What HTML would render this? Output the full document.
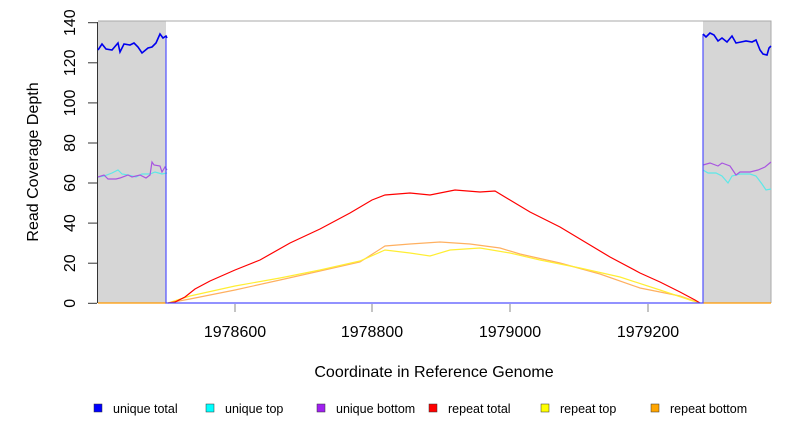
<!DOCTYPE html>
<html><head><meta charset="utf-8"><style>
body{margin:0;background:#fff;}
svg{display:block;font-family:"Liberation Sans",sans-serif;}
</style></head><body>
<svg width="792" height="432" viewBox="0 0 792 432" xmlns="http://www.w3.org/2000/svg">
<rect x="98" y="21" width="68" height="282" fill="#d6d6d6"/>
<rect x="703" y="21" width="68" height="282" fill="#d6d6d6"/>
<polyline points="98,21 771,21 771,303" fill="none" stroke="#aaa" stroke-width="1"/>
<line x1="97.5" y1="22" x2="97.5" y2="303" stroke="#333"/>
<g stroke="#333">
<line x1="88" y1="303.3" x2="97" y2="303.3"/><line x1="88" y1="263.2" x2="97" y2="263.2"/>
<line x1="88" y1="223.1" x2="97" y2="223.1"/><line x1="88" y1="183" x2="97" y2="183"/>
<line x1="88" y1="143" x2="97" y2="143"/><line x1="88" y1="102.9" x2="97" y2="102.9"/>
<line x1="88" y1="62.8" x2="97" y2="62.8"/><line x1="88" y1="22.7" x2="97" y2="22.7"/>
</g>
<g stroke="#888"><line x1="235" y1="304" x2="235" y2="312"/><line x1="372" y1="304" x2="372" y2="312"/><line x1="510" y1="304" x2="510" y2="312"/><line x1="648" y1="304" x2="648" y2="312"/></g>
<g font-size="16" fill="#000" text-anchor="middle">
<text transform="translate(75,303.3) rotate(-90)">0</text>
<text transform="translate(75,263.2) rotate(-90)">20</text>
<text transform="translate(75,223.1) rotate(-90)">40</text>
<text transform="translate(75,183) rotate(-90)">60</text>
<text transform="translate(75,143) rotate(-90)">80</text>
<text transform="translate(75,102.9) rotate(-90)">100</text>
<text transform="translate(75,62.8) rotate(-90)">120</text>
<text transform="translate(75,22.7) rotate(-90)">140</text>
<text x="235" y="337">1978600</text><text x="372" y="337">1978800</text><text x="510" y="337">1979000</text><text x="648" y="337">1979200</text>
<text x="434" y="377">Coordinate in Reference Genome</text>
<text transform="translate(38,162) rotate(-90)">Read Coverage Depth</text>
</g>
<g fill="none" stroke-width="1.2">
<line x1="98" y1="303" x2="166" y2="303" stroke="#ff9900"/>
<line x1="703" y1="303" x2="771" y2="303" stroke="#ff9900"/>
<polyline stroke="#ffb060" points="168,303 190,299 235,290 280,280 320,271 360,262 385,246 410,244 440,242 470,244 500,248 520,254 560,263 600,274 640,288 680,296 700,303"/>
<polyline stroke="#ffee33" points="168,303 190,296 235,286 280,278 320,270 360,261 385,250 410,253 430,256 450,250 480,248 510,253 540,260 580,268 620,277 660,290 690,300 700,303"/>
<polyline stroke="#ff0000" points="168,303 175,302 185,297 195,289 210,281 235,270 260,260 290,243 320,229 350,213 372,200 385,195 410,193 430,195 455,190 480,192 495,191 510,200 530,212 560,227 590,245 610,257 640,273 660,282 680,292 695,300 700,303"/>
<polyline stroke="#5ee8e8" points="98,177 104,176 112,173 118,170 122,174 128,175 136,177 142,174 150,174 155,172 162,174 167,173"/>
<polyline stroke="#a855e0" points="98,177 104,175 108,179 116,179 120,178 128,175 132,177 140,175 146,178 150,175 152,162 154,165 160,166 162,172 165,167 167,170"/>
<polyline stroke="#5ee8e8" points="703,170 708,173 716,173 722,176 728,183 732,176 740,174 750,174 756,176 762,184 766,190 771,189"/>
<polyline stroke="#a855e0" points="703,165 710,163 718,166 722,163 730,166 736,175 740,172 750,172 758,170 765,167 771,162"/>
<polyline stroke="#5050ff" points="166,36 166,303 703,303 703,34"/>
<polyline stroke="#0000ee" stroke-width="1.6" points="98,50 102,44 106,49 112,50 118,43 120,52 124,44 130,45 134,43 138,47 142,53 148,48 152,47 156,43 160,34 163,38 166,36 167,38"/>
<polyline stroke="#0000ee" stroke-width="1.6" points="703,34 706,37 710,33 714,35 718,41 722,38 727,42 732,36 736,43 741,42 746,41 752,42 756,40 760,50 763,54 767,55 769,48 771,46"/>
</g>
<g font-size="12.5" fill="#000">
<rect x="94" y="404" width="8" height="8" fill="#0000ff" stroke="#333" stroke-width="0.5"/><text x="113" y="413">unique total</text>
<rect x="206" y="404" width="8" height="8" fill="#00ffff" stroke="#333" stroke-width="0.5"/><text x="225" y="413">unique top</text>
<rect x="317" y="404" width="8" height="8" fill="#a020f0" stroke="#333" stroke-width="0.5"/><text x="336" y="413">unique bottom</text>
<rect x="429" y="404" width="8" height="8" fill="#ff0000" stroke="#333" stroke-width="0.5"/><text x="448" y="413">repeat total</text>
<rect x="541" y="404" width="8" height="8" fill="#ffff00" stroke="#333" stroke-width="0.5"/><text x="560" y="413">repeat top</text>
<rect x="651" y="404" width="8" height="8" fill="#ffa500" stroke="#333" stroke-width="0.5"/><text x="670" y="413">repeat bottom</text>
</g>
</svg>
</body></html>
